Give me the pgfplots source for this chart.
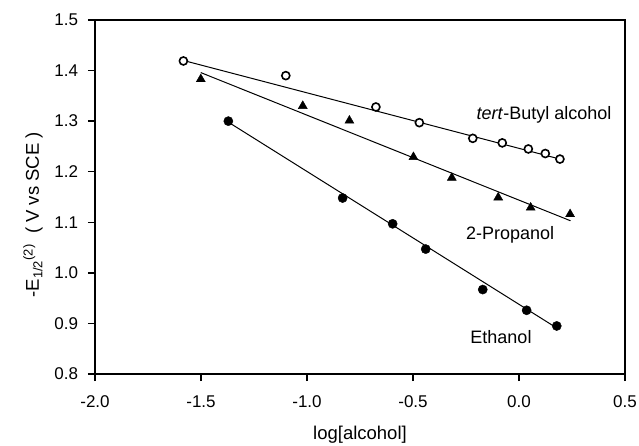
\documentclass[border=0pt]{standalone}
\usepackage{pgfplots}
\pgfplotsset{compat=1.18}
\usepackage{fontspec}
\setmainfont{Liberation Sans}
\begin{document}
\fontsize{17}{20}\selectfont
\begin{tikzpicture}[x=1pt,y=1pt]
\useasboundingbox (-95,-71) rectangle (544,374);
\begin{axis}[
  at={(0,0)}, anchor=south west,
  scale only axis, width=530pt, height=354pt,
  xmin=-2, xmax=0.5, ymin=0.8, ymax=1.5,
  xtick={-2,-1.5,-1,-0.5,0,0.5},
  ytick={0.8,0.9,1.0,1.1,1.2,1.3,1.4,1.5},
  /pgf/number format/assume math mode=true,
  /pgf/number format/.cd, fixed, fixed zerofill, precision=1, /pgfplots/.cd,
  tick label style={font=\fontsize{17}{20}\selectfont},
  xticklabel style={yshift=-9pt},
  yticklabel style={xshift=-4pt},
  tick align=outside, tick pos=left,
  major tick length=7pt,
  axis line style={line width=1.7pt},
  every tick/.style={black, line width=1.3pt},
  xlabel={log[alcohol]},
  ylabel={-E\textsubscript{1/2}\textsuperscript{(2)}\ \ ( V vs SCE )},
  xlabel style={font=\fontsize{18.5}{22}\selectfont, at={(axis description cs:0.5,-0.172)}, anchor=center},
  ylabel style={font=\fontsize{18.5}{22}\selectfont, at={(axis description cs:-0.117,0.45)}, anchor=center, rotate=0},
  clip=false,
]
% fitted lines
\addplot[black, line width=1pt] coordinates {(-1.583,1.420) (0.193,1.225)};
\addplot[black, line width=1pt] coordinates {(-1.501,1.396) (0.243,1.103)};
\addplot[black, line width=1pt] coordinates {(-1.371,1.298) (0.178,0.891)};
% tert-Butyl alcohol
\addplot[only marks, mark=*, mark size=4pt, mark options={fill=white, draw=black, line width=1.6pt}] coordinates {
 (-1.583,1.419) (-1.100,1.390) (-0.675,1.328) (-0.470,1.297) (-0.218,1.266)
 (-0.079,1.257) (0.044,1.245) (0.124,1.236) (0.193,1.225)};
% 2-Propanol
\addplot[only marks, mark=triangle*, mark size=5.2pt, mark options={fill=black, draw=black}] coordinates {
 (-1.501,1.383) (-1.020,1.330) (-0.800,1.301) (-0.498,1.229) (-0.317,1.188)
 (-0.098,1.149) (0.055,1.129) (0.241,1.116)};
% Ethanol
\addplot[only marks, mark=*, mark size=4.6pt, mark options={fill=black, draw=black}] coordinates {
 (-1.371,1.300) (-0.832,1.148) (-0.596,1.097) (-0.440,1.047) (-0.171,0.967)
 (0.036,0.926) (0.178,0.895)};
\node[font=\fontsize{18}{21}\selectfont] at (axis cs:0.118,1.312) {\textit{tert}-Butyl alcohol};
\node[font=\fontsize{18}{21}\selectfont] at (axis cs:-0.042,1.076) {2-Propanol};
\node[font=\fontsize{18}{21}\selectfont] at (axis cs:-0.085,0.874) {Ethanol};
\end{axis}
\end{tikzpicture}
\end{document}
